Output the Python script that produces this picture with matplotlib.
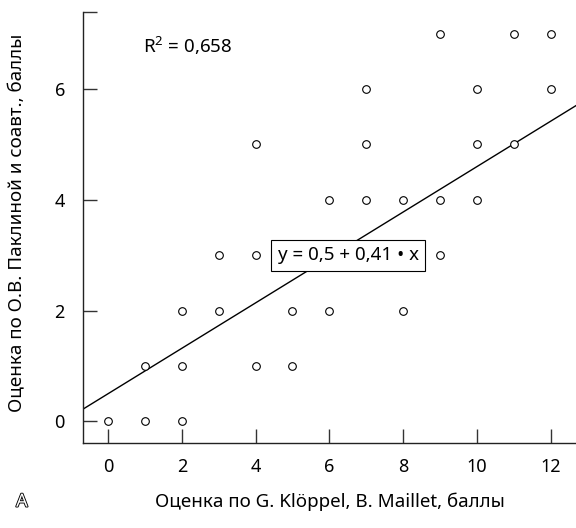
import matplotlib
matplotlib.use("Agg")
import matplotlib.pyplot as plt
import matplotlib.patheffects as pe
import numpy as np

# Данные: оценки по двум системам
x_vals = [0, 1, 1, 2, 2, 2, 3, 3, 4, 4, 4, 5, 5, 6, 6, 7, 7, 7, 8, 8, 9, 9, 9, 10, 10, 10, 11, 11, 12, 12]
y_vals = [0, 0, 1, 0, 1, 2, 2, 3, 1, 3, 5, 1, 2, 2, 4, 4, 5, 6, 2, 4, 3, 4, 7, 4, 5, 6, 5, 7, 6, 7]
intercept = 0.5
slope = 0.41
r2_text = "R$^2$ = 0,658"
eq_text = "y = 0,5 + 0,41 • x"
x_ticks = [0, 2, 4, 6, 8, 10, 12]
y_ticks = [0, 2, 4, 6]

plt.rcParams['font.family'] = ['Noto Sans', 'DejaVu Sans']
plt.rcParams['mathtext.fontset'] = 'custom'
plt.rcParams['mathtext.rm'] = 'Noto Sans'

fig = plt.figure(figsize=(5.76, 5.28), dpi=100)
ax = fig.add_axes([0.1441, 0.161, 0.856, 0.816])

xlim = (-0.68, 12.69)
ylim = (-0.39, 7.39)
ax.set_xlim(*xlim)
ax.set_ylim(*ylim)

# линия регрессии
xl = np.array(xlim)
ax.plot(xl, intercept + slope * xl, color='black', lw=1.0, zorder=2)

ax.plot(x_vals, y_vals, linestyle='none', marker='o', markersize=5.5,
        markerfacecolor='white', markeredgecolor='black', markeredgewidth=0.8, zorder=3)

ax.text(6.51, 3.0, eq_text, ha='center', va='center', fontsize=13.5, zorder=4,
        bbox=dict(boxstyle='square,pad=0.35', facecolor='white', edgecolor='black', linewidth=0.8))
ax.text(0.95, 6.78, r2_text, ha='left', va='center', fontsize=13.5)

for s in ['top', 'right']:
    ax.spines[s].set_visible(False)
for s in ['left', 'bottom']:
    ax.spines[s].set_linewidth(1.0)
    ax.spines[s].set_color('#222222')

ax.set_xticks(x_ticks)
ax.set_yticks(y_ticks + [ylim[1]])
ax.set_yticklabels([str(v) for v in y_ticks] + [''])
ax.tick_params(direction='in', length=10, width=1.0, color='#333333',
               labelsize=13, pad=11)
ax.tick_params(axis='y', pad=13)

fig.text(0.03, 0.578, "Оценка по О.В. Паклиной и соавт., баллы", rotation=90,
         ha='center', va='center', fontsize=13.5)
fig.text(0.573, 0.05, "Оценка по G. Klöppel, B. Maillet, баллы",
         ha='center', va='center', fontsize=13.5)
fig.text(0.028, 0.05, "A", ha='left', va='center', fontsize=13, fontweight='bold',
         color='white', path_effects=[pe.withStroke(linewidth=1.3, foreground='black')])

fig.savefig("out.png", dpi=100)
